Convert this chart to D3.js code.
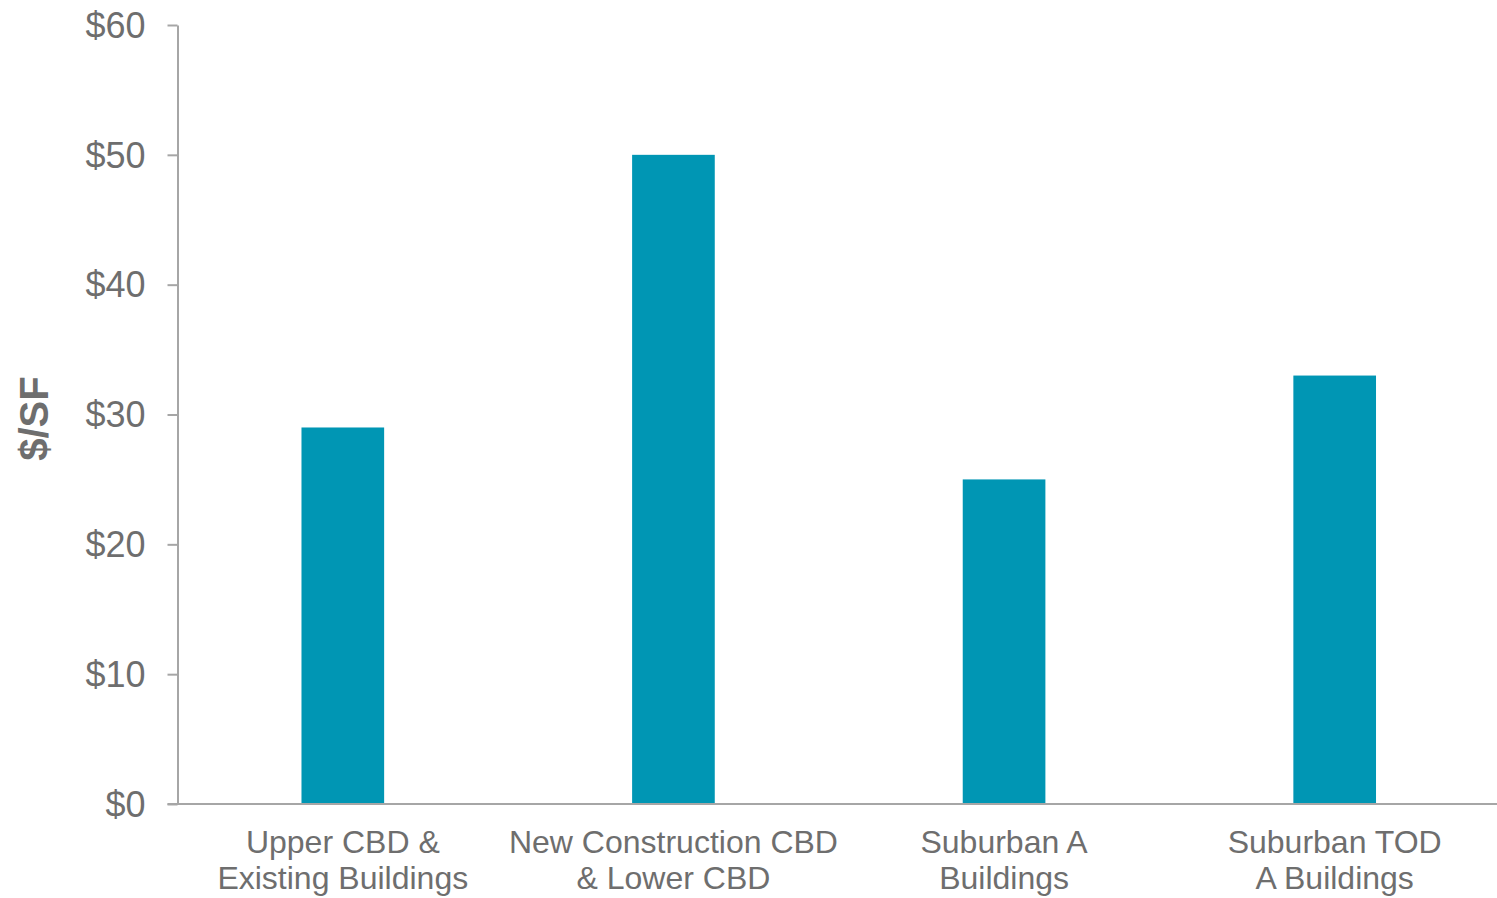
<!DOCTYPE html>
<html>
<head>
<meta charset="utf-8">
<script src="https://cdn.jsdelivr.net/npm/d3@7"></script>
<style>
  html, body { margin: 0; padding: 0; background: #fff; }
  svg { display: block; }
  text { font-family: "Liberation Sans", Arial, sans-serif; }
</style>
</head>
<body>
<svg id="chart" width="1497" height="898"></svg>
<script>
const categories = [
  ["Upper CBD &", "Existing Buildings"],
  ["New Construction CBD", "& Lower CBD"],
  ["Suburban A", "Buildings"],
  ["Suburban TOD", "A Buildings"]
];
const values = [29, 50, 25, 33];
const yTicks = [0, 10, 20, 30, 40, 50, 60];
const yTitle = "$/SF";

const W = 1497, H = 898;
const margin = { top: 25, right: -3, bottom: 94, left: 177.5 };
const axisColor = "#a6a6a6";
const textColor = "#6e6e6e";
const barColor = "#0096b4";

const svg = d3.select("#chart");

const x = d3.scaleBand()
  .domain(d3.range(categories.length))
  .range([margin.left, W - margin.right])
  .paddingInner(0.75)
  .paddingOuter(0.375);

const y = d3.scaleLinear()
  .domain([0, 60])
  .range([H - margin.bottom, margin.top]);

// bars
svg.append("g").selectAll("rect")
  .data(values)
  .join("rect")
  .attr("x", (d, i) => x(i))
  .attr("y", d => y(d))
  .attr("width", x.bandwidth())
  .attr("height", d => y(0) - y(d))
  .attr("fill", barColor);

// y axis
const yAxis = svg.append("g")
  .attr("transform", `translate(${margin.left},0)`)
  .call(d3.axisLeft(y).tickValues(yTicks).tickFormat(d => "$" + d)
    .tickSize(10).tickSizeOuter(0).tickPadding(22));
yAxis.select(".domain").attr("stroke", axisColor).attr("stroke-width", 2);
yAxis.selectAll(".tick line").attr("stroke", axisColor).attr("stroke-width", 2);
yAxis.selectAll(".tick text")
  .attr("fill", textColor)
  .style("font-size", "36px")
  .attr("dy", "0.34em");

// x axis line
svg.append("line")
  .attr("x1", margin.left - 10)
  .attr("x2", W)
  .attr("y1", y(0))
  .attr("y2", y(0))
  .attr("stroke", axisColor)
  .attr("stroke-width", 2);

// category labels
const lab = svg.append("g").selectAll("text")
  .data(categories)
  .join("text")
  .attr("text-anchor", "middle")
  .attr("fill", textColor)
  .style("font-size", "32px")
  .attr("x", (d, i) => x(i) + x.bandwidth() / 2)
  .attr("y", y(0) + 49);
lab.selectAll("tspan")
  .data(d => d)
  .join("tspan")
  .attr("x", function() { return this.parentNode.getAttribute("x"); })
  .attr("dy", (d, j) => j === 0 ? 0 : 36)
  .text(d => d);

// y title
svg.append("text")
  .attr("transform", `translate(48,${(y(0) + y(60)) / 2 + 4}) rotate(-90)`)
  .attr("text-anchor", "middle")
  .attr("fill", textColor)
  .style("font-size", "40px")
  .style("font-weight", "bold")
  .text(yTitle);
</script>
</body>
</html>
